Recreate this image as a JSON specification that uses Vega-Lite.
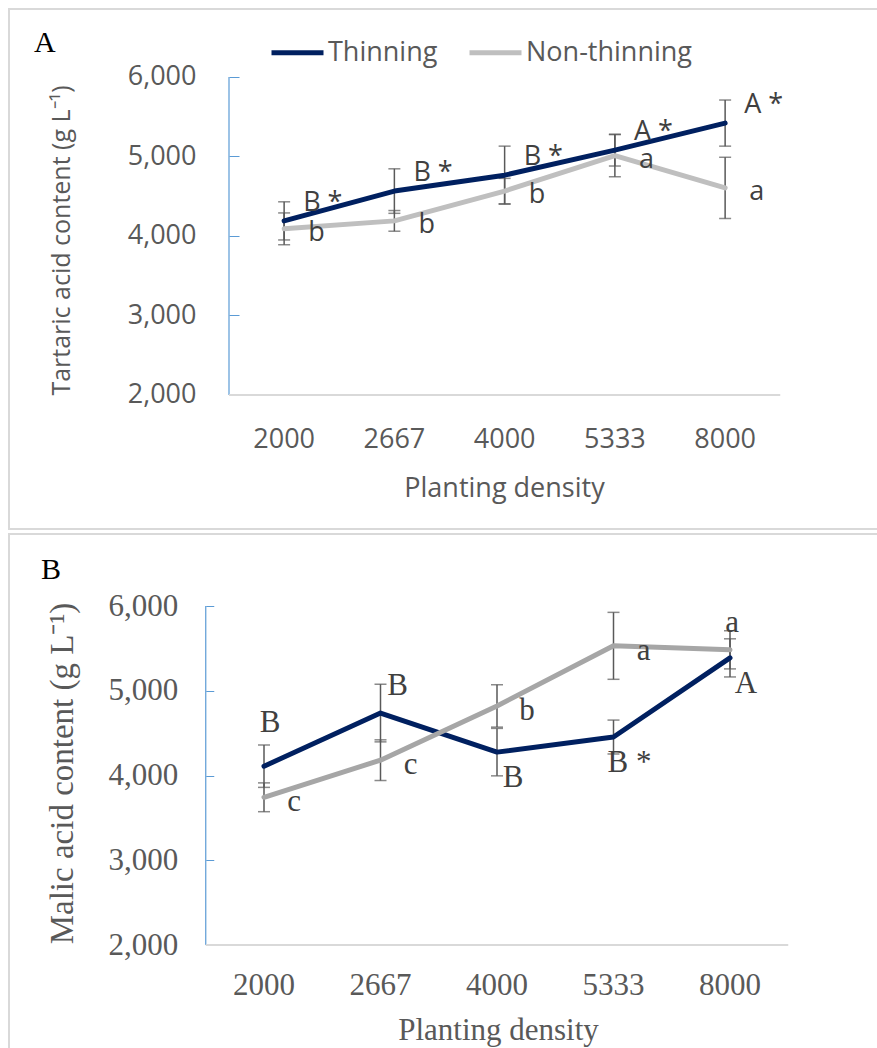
{
  "$schema": "https://vega.github.io/schema/vega-lite/v6.json",
  "padding": {"left": 8, "top": 8, "right": 0, "bottom": 0},
  "background": "white",
  "spacing": 3,
  "config": {
    "view": {"stroke": "#D9D9D9", "strokeWidth": 2},
    "axis": {"grid": false}
  },
  "datasets": {
    "tartaric": [
      {"density": "2000", "treatment": "Non-thinning", "mean": 4090, "err": 200, "label": "b"},
      {"density": "2667", "treatment": "Non-thinning", "mean": 4190, "err": 130, "label": "b"},
      {"density": "4000", "treatment": "Non-thinning", "mean": 4565, "err": 160, "label": "b"},
      {"density": "5333", "treatment": "Non-thinning", "mean": 5010, "err": 265, "label": "a"},
      {"density": "8000", "treatment": "Non-thinning", "mean": 4605, "err": 385, "label": "a"},
      {"density": "2000", "treatment": "Thinning", "mean": 4190, "err": 240, "label": "B *"},
      {"density": "2667", "treatment": "Thinning", "mean": 4565, "err": 280, "label": "B *"},
      {"density": "4000", "treatment": "Thinning", "mean": 4765, "err": 365, "label": "B *"},
      {"density": "5333", "treatment": "Thinning", "mean": 5080, "err": 200, "label": "A *"},
      {"density": "8000", "treatment": "Thinning", "mean": 5420, "err": 290, "label": "A *"}
    ],
    "malic": [
      {"density": "2000", "treatment": "Thinning", "mean": 4110, "err": 250, "label": "B"},
      {"density": "2667", "treatment": "Thinning", "mean": 4737, "err": 340, "label": "B"},
      {"density": "4000", "treatment": "Thinning", "mean": 4276, "err": 280, "label": "B"},
      {"density": "5333", "treatment": "Thinning", "mean": 4454, "err": 200, "label": "B *"},
      {"density": "8000", "treatment": "Thinning", "mean": 5388, "err": 225, "label": "A"},
      {"density": "2000", "treatment": "Non-thinning", "mean": 3743, "err": 170, "label": "c"},
      {"density": "2667", "treatment": "Non-thinning", "mean": 4181, "err": 240, "label": "c"},
      {"density": "4000", "treatment": "Non-thinning", "mean": 4821, "err": 250, "label": "b"},
      {"density": "5333", "treatment": "Non-thinning", "mean": 5530, "err": 395, "label": "a"},
      {"density": "8000", "treatment": "Non-thinning", "mean": 5483, "err": 225, "label": "a"}
    ],
    "one": [{}]
  },
  "resolve": {"scale": {"color": "independent", "x": "independent", "y": "independent"}, "legend": {"color": "independent"}},
  "vconcat": [
    {
      "width": 877,
      "height": 520,
      "title": {"text": "A", "anchor": "start", "frame": "group", "font": "Liberation Serif", "fontSize": 30, "fontWeight": "normal", "color": "#000000", "offset": -73, "dx": 25, "baseline": "alphabetic"},
      "data": {"name": "tartaric"},
      "layer": [
        {
          "mark": {"type": "errorbar", "ticks": true, "size": 12, "thickness": 1.5, "color": "#595959"},
          "encoding": {
            "x": {"field": "density", "type": "nominal",
              "scale": {"type": "band", "domain": ["2000", "2667", "4000", "5333", "8000"], "range": [220, 771.25], "paddingInner": 0, "paddingOuter": 0},
              "axis": {"orient": "bottom", "offset": -134, "domain": false, "ticks": false, "tickSize": 0, "labelPadding": 31, "labelFont": "Open Sans", "labelFontSize": 27, "labelColor": "#595959", "labelAngle": 0, "title": "Planting density", "titleFont": "Open Sans", "titleFontSize": 27, "titleFontWeight": "normal", "titleColor": "#595959", "titleX": 495, "titleY": 101, "titleBaseline": "alphabetic"}},
            "y": {"field": "mean", "type": "quantitative",
              "scale": {"domain": [314.5, 6855], "nice": false, "zero": false},
              "axis": {"orient": "left", "offset": -220, "values": [2000, 3000, 4000, 5000, 6000], "format": ",d", "domain": false, "ticks": true, "tickSize": -10, "tickColor": "#5B9BD5", "tickWidth": 1, "labelPadding": 43, "labelFont": "Open Sans", "labelFontSize": 27, "labelColor": "#595959", "title": "Tartaric acid content (g L⁻¹)", "titleFont": "Open Sans", "titleFontSize": 25, "titleFontWeight": "normal", "titleColor": "#595959", "titleX": -168, "titleY": 231, "titleAngle": -90, "titleBaseline": "middle", "titleAlign": "center"}},
            "yError": {"field": "err"}
          }
        },
        {
          "data": {"name": "one"},
          "mark": {"type": "rule", "color": "#5B9BD5", "strokeWidth": 1.2},
          "encoding": {
            "x": {"datum": "2000", "type": "nominal", "bandPosition": 0},
            "y": {"datum": 2000, "type": "quantitative"},
            "y2": {"datum": 6000}
          }
        },
        {
          "data": {"name": "one"},
          "mark": {"type": "rule", "color": "#D9D9D9", "strokeWidth": 2},
          "encoding": {
            "x": {"datum": "2000", "type": "nominal", "bandPosition": 0},
            "x2": {"datum": "8000", "bandPosition": 1},
            "y": {"datum": 2000, "type": "quantitative"}
          }
        },
        {
          "mark": {"type": "line", "strokeWidth": 5, "strokeCap": "round", "strokeJoin": "round"},
          "encoding": {
            "x": {"field": "density", "type": "nominal"},
            "y": {"field": "mean", "type": "quantitative"},
            "color": {"field": "treatment", "type": "nominal",
              "scale": {"domain": ["Thinning", "Non-thinning"], "range": ["#002060", "#BFBFBF"]},
              "legend": {"orient": "none", "legendX": 260, "legendY": 15, "direction": "horizontal", "title": null, "symbolType": "stroke", "symbolSize": 2704, "symbolStrokeWidth": 5, "labelFont": "Open Sans", "labelFontSize": 27, "labelColor": "#595959", "labelOffset": 2, "labelLimit": 400, "columnPadding": 21}}
          }
        },
        {
          "transform": [{"filter": "datum.treatment === 'Thinning'"}],
          "mark": {"type": "text", "align": "left", "baseline": "middle", "dx": 19, "dy": -18, "font": "Open Sans", "fontSize": 27, "color": "#404040"},
          "encoding": {
            "x": {"field": "density", "type": "nominal"},
            "y": {"field": "mean", "type": "quantitative"},
            "text": {"field": "label"}
          }
        },
        {
          "transform": [{"filter": "datum.treatment === 'Non-thinning'"}],
          "mark": {"type": "text", "align": "left", "baseline": "middle", "dx": 24, "dy": 4, "font": "Open Sans", "fontSize": 27, "color": "#404040"},
          "encoding": {
            "x": {"field": "density", "type": "nominal"},
            "y": {"field": "mean", "type": "quantitative"},
            "text": {"field": "label"}
          }
        }
      ]
    },
    {
      "width": 877,
      "height": 530,
      "title": {"text": "B", "anchor": "start", "frame": "group", "font": "Liberation Serif", "fontSize": 30, "fontWeight": "normal", "color": "#000000", "offset": -75, "dx": 32, "baseline": "alphabetic"},
      "data": {"name": "malic"},
      "layer": [
        {
          "mark": {"type": "errorbar", "ticks": true, "size": 12, "thickness": 1.5, "color": "#595959"},
          "encoding": {
            "x": {"field": "density", "type": "nominal",
              "scale": {"type": "band", "domain": ["2000", "2667", "4000", "5333", "8000"], "range": [196.75, 779.25], "paddingInner": 0, "paddingOuter": 0},
              "axis": {"orient": "bottom", "offset": -119, "domain": false, "ticks": false, "tickSize": 0, "labelPadding": 25, "labelFont": "Liberation Serif", "labelFontSize": 31, "labelColor": "#595959", "labelAngle": 0, "title": "Planting density", "titleFont": "Liberation Serif", "titleFontSize": 31, "titleFontWeight": "normal", "titleColor": "#595959", "titleX": 489, "titleY": 94, "titleBaseline": "alphabetic"}},
            "y": {"field": "mean", "type": "quantitative",
              "scale": {"domain": [596, 6849.6], "nice": false, "zero": false},
              "axis": {"orient": "left", "offset": -196.75, "values": [2000, 3000, 4000, 5000, 6000], "format": ",d", "domain": false, "ticks": true, "tickSize": -8, "tickColor": "#5B9BD5", "tickWidth": 1, "labelPadding": 36, "labelFont": "Liberation Serif", "labelFontSize": 31, "labelColor": "#595959", "title": "Malic acid content (g L⁻¹)", "titleFont": "Liberation Serif", "titleFontSize": 33, "titleFontWeight": "normal", "titleColor": "#595959", "titleX": -143, "titleY": 239, "titleAngle": -90, "titleBaseline": "middle", "titleAlign": "center"}},
            "yError": {"field": "err"}
          }
        },
        {
          "data": {"name": "one"},
          "mark": {"type": "rule", "color": "#5B9BD5", "strokeWidth": 1.2},
          "encoding": {
            "x": {"datum": "2000", "type": "nominal", "bandPosition": 0},
            "y": {"datum": 2000, "type": "quantitative"},
            "y2": {"datum": 6000}
          }
        },
        {
          "data": {"name": "one"},
          "mark": {"type": "rule", "color": "#D9D9D9", "strokeWidth": 2},
          "encoding": {
            "x": {"datum": "2000", "type": "nominal", "bandPosition": 0},
            "x2": {"datum": "8000", "bandPosition": 1},
            "y": {"datum": 2000, "type": "quantitative"}
          }
        },
        {
          "mark": {"type": "line", "strokeWidth": 5, "strokeCap": "round", "strokeJoin": "round"},
          "encoding": {
            "x": {"field": "density", "type": "nominal"},
            "y": {"field": "mean", "type": "quantitative"},
            "color": {"field": "treatment", "type": "nominal",
              "scale": {"domain": ["Thinning", "Non-thinning"], "range": ["#002060", "#A6A6A6"]},
              "legend": null}
          }
        },
        {
          "transform": [{"filter": "datum.treatment === 'Thinning' && datum.density === '2000'"}],
          "mark": {"type": "text", "align": "center", "baseline": "middle", "dx": 6, "dy": -43, "font": "Liberation Serif", "fontSize": 31, "color": "#404040"},
          "encoding": {"x": {"field": "density", "type": "nominal"}, "y": {"field": "mean", "type": "quantitative"}, "text": {"field": "label"}}
        },
        {
          "transform": [{"filter": "datum.treatment === 'Thinning' && datum.density === '2667'"}],
          "mark": {"type": "text", "align": "center", "baseline": "middle", "dx": 17, "dy": -27, "font": "Liberation Serif", "fontSize": 31, "color": "#404040"},
          "encoding": {"x": {"field": "density", "type": "nominal"}, "y": {"field": "mean", "type": "quantitative"}, "text": {"field": "label"}}
        },
        {
          "transform": [{"filter": "datum.treatment === 'Thinning' && indexof(['4000','5333','8000'], datum.density) >= 0"}],
          "mark": {"type": "text", "align": "center", "baseline": "middle", "dx": 16, "dy": 26, "font": "Liberation Serif", "fontSize": 31, "color": "#404040"},
          "encoding": {"x": {"field": "density", "type": "nominal"}, "y": {"field": "mean", "type": "quantitative"}, "text": {"field": "label"}}
        },
        {
          "transform": [{"filter": "datum.treatment === 'Non-thinning' && datum.density !== '8000'"}],
          "mark": {"type": "text", "align": "center", "baseline": "middle", "dx": 30, "dy": 5, "font": "Liberation Serif", "fontSize": 31, "color": "#404040"},
          "encoding": {"x": {"field": "density", "type": "nominal"}, "y": {"field": "mean", "type": "quantitative"}, "text": {"field": "label"}}
        },
        {
          "transform": [{"filter": "datum.treatment === 'Non-thinning' && datum.density === '8000'"}],
          "mark": {"type": "text", "align": "center", "baseline": "middle", "dx": 2, "dy": -27, "font": "Liberation Serif", "fontSize": 31, "color": "#404040"},
          "encoding": {"x": {"field": "density", "type": "nominal"}, "y": {"field": "mean", "type": "quantitative"}, "text": {"field": "label"}}
        }
      ]
    }
  ]
}
